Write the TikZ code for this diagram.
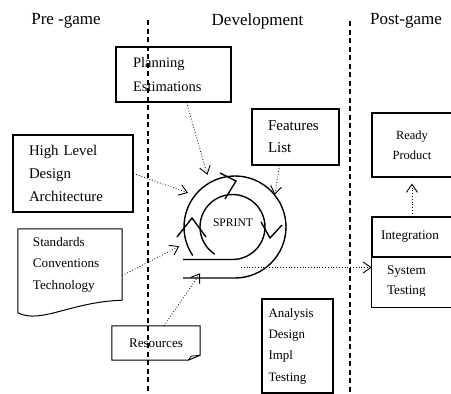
\documentclass[tikz,border=0pt]{standalone}
\usepackage{fontspec}
\setmainfont{Liberation Serif}
\usetikzlibrary{arrows.meta,calc}

\begin{document}
\begin{tikzpicture}[x=1pt,y=1pt,
        boxline/.style={draw, line width=1.1pt},
        taskbox/.style={boxline, align=left, inner ysep=0pt},
        flow/.style={dotted, line width=0.8pt, -{Straight Barb[length=8pt,width=11pt,line width=0.9pt]}},
        phase/.style={dash pattern=on 5pt off 3.5pt, line width=1.1pt},
        loopline/.style={line width=1.4pt},
        title/.style={font=\fontsize{17}{20}\selectfont}]
        \useasboundingbox (0,0) rectangle (451,-394);

        % phases
        \node[title] (pre) at (66,-21) {Pre -game};
        \node[title] (dev) at (257.5,-21) {Development};
        \node[title] (post) at (406,-21) {Post-game};
        \draw[phase] (148,-20) -- (148,-394);
        \draw[phase] (350,-21) -- (350,-394);

        % pre-game inputs
        \node[taskbox, inner xsep=17pt, text width=81pt, minimum height=55pt,
              font=\fontsize{14.5}{24}\selectfont] (plan) at (173.5,-74.5) {Planning\\Estimations};
        \node[taskbox, inner xsep=16pt, text width=88pt, minimum height=77pt,
              font=\fontsize{14.8}{23}\selectfont] (hld) at (73,-173.5) {High Level\\Design\\Architecture};
        \node[taskbox, inner xsep=16pt, text width=55pt, minimum height=56pt,
              font=\fontsize{15}{22}\selectfont] (feat) at (295.5,-137) {Features\\List};

        \node[align=left, inner xsep=15pt, inner ysep=0pt, text width=74pt, minimum height=71pt,
              font=\fontsize{13.1}{21.5}\selectfont] (std) at (70,-264.5) {Standards\\Conventions\\Technology};
        \draw[line width=1pt] (std.north west) -- (std.north east) -- (std.south east)
            .. controls (70,-302) and (42,-324) .. (18,-313) -- cycle;

        \node[minimum width=88pt, minimum height=34pt, inner sep=0pt,
              font=\fontsize{13.1}{16}\selectfont] (res) at (156,-343) {Resources};
        \draw[line width=1pt] (res.north west) -- (res.north east) -- ($(res.south east)+(0,5)$)
            -- ($(res.south east)+(-12,0)$) -- (res.south west) -- cycle;
        \draw[line width=0.8pt] ($(res.south east)+(-12,0)$) -- ($(res.south east)+(-9,4)$) -- ($(res.south east)+(0,5)$);

        \node[taskbox, inner xsep=6.5pt, text width=58pt, minimum height=94pt,
              font=\fontsize{12.9}{21.3}\selectfont] (tasks) at (297.5,-346) {Analysis\\Design\\Impl\\Testing};

        % sprint loop
        \coordinate (co) at (235,-227);
        \coordinate (ci) at (232.5,-227);
        \draw[loopline] (183,-259.5) -- (232.5,-259.5) arc[start angle=-90, end angle=237, radius=32.5];
        \draw[loopline] (183,-278) -- (235,-278) arc[start angle=-90, end angle=214, radius=51];
        \draw[loopline] (220,-173) -- (236,-181) -- (225,-199);
        \draw[loopline] (177,-237) -- (192,-218) -- (206,-237);
        \draw[loopline] (261,-222) -- (270,-238) -- (282,-225);
        \node[font=\fontsize{11.6}{14}\selectfont] (sprint) at (233,-223) {SPRINT};

        % post-game
        \node[boxline, align=center, minimum width=80pt, minimum height=64pt,
              font=\fontsize{12.5}{20}\selectfont] (ready) at (412,-145) {Ready\\Product};
        \node[taskbox, inner xsep=9pt, text width=62pt, minimum height=40pt,
              font=\fontsize{13.2}{16}\selectfont] (integ) at (412,-237) {Integration};
        \begin{scope}
            \clip (360,-200) rectangle (460,-295.5);
            \node[align=left, inner xsep=15pt, inner ysep=0pt, text width=50pt, minimum height=50pt,
                  font=\fontsize{13.2}{20}\selectfont] (systest) at (412,-282) {System\\Testing};
        \end{scope}
        \draw[boxline] (systest.north west) rectangle (systest.south east);

        % flows
        \draw[flow] (plan.-65) -- ($(co)+(118:59)$);
        \draw[flow] (feat.-119) -- ($(co)+(39:51)$);
        \draw[flow] (hld.east) -- ($(co)+(144:58)$);
        \draw[flow] (std.-12) -- ($(co)+(199:59)$);
        \draw[flow] (res.65) -- ($(co)+(233:58)$);
        \coordinate (out) at (241,-267.5);
        \draw[flow] (out) -- (out -| systest.west);
        \draw[flow, shorten >=6pt] (integ.north) -- (ready.south);
    \end{tikzpicture}
\end{document}
